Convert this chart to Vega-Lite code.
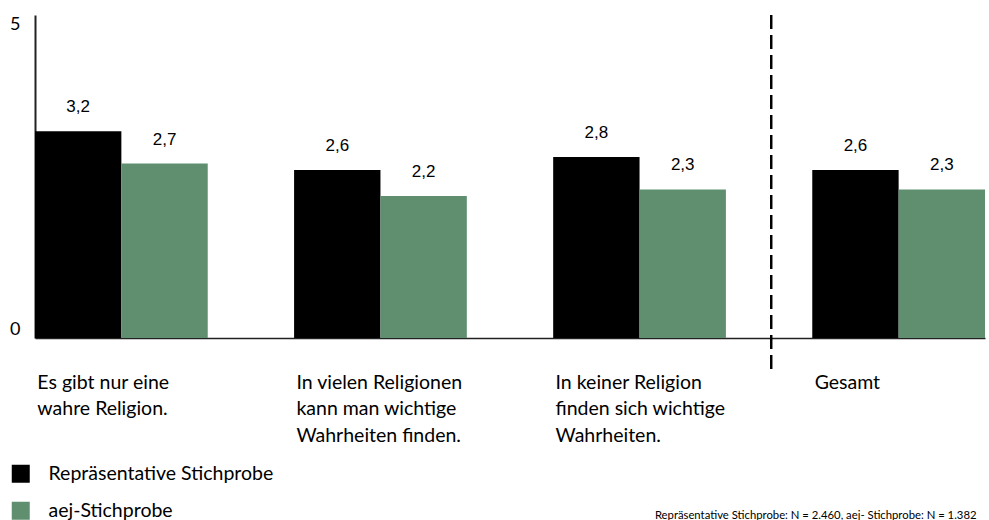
{
  "$schema": "https://vega.github.io/schema/vega-lite/v6.json",
  "width": 950,
  "height": 323,
  "autosize": {"type": "none"},
  "padding": {"left": 35, "top": 15, "right": 4, "bottom": 182},
  "background": "white",
  "config": {
    "view": {"stroke": null},
    "font": "Lato",
    "locale": {"number": {"decimal": ",", "thousands": ".", "grouping": [3], "currency": ["", " €"]}}
  },
  "data": {
    "values": [
      {"frage": "Es gibt nur eine wahre Religion.", "gruppe": "Repräsentative Stichprobe", "wert": 3.2},
      {"frage": "Es gibt nur eine wahre Religion.", "gruppe": "aej-Stichprobe", "wert": 2.7},
      {"frage": "In vielen Religionen kann man wichtige Wahrheiten finden.", "gruppe": "Repräsentative Stichprobe", "wert": 2.6},
      {"frage": "In vielen Religionen kann man wichtige Wahrheiten finden.", "gruppe": "aej-Stichprobe", "wert": 2.2},
      {"frage": "In keiner Religion finden sich wichtige Wahrheiten.", "gruppe": "Repräsentative Stichprobe", "wert": 2.8},
      {"frage": "In keiner Religion finden sich wichtige Wahrheiten.", "gruppe": "aej-Stichprobe", "wert": 2.3},
      {"frage": "Gesamt", "gruppe": "Repräsentative Stichprobe", "wert": 2.6},
      {"frage": "Gesamt", "gruppe": "aej-Stichprobe", "wert": 2.3}
    ]
  },
  "layer": [
    {
      "mark": {"type": "bar"},
      "encoding": {
        "x": {
          "field": "frage", "type": "nominal", "sort": null,
          "scale": {"paddingInner": 0.3333, "paddingOuter": 0},
          "axis": {
            "title": "Repräsentative Stichprobe: N = 2.460, aej- Stichprobe: N = 1.382",
            "titleFont": "Lato", "titleFontSize": 11.3, "titleFontWeight": "normal", "titleColor": "#000",
            "titleAnchor": "end", "titleAlign": "right", "titleBaseline": "alphabetic",
            "titleX": 941, "titleY": 180,
            "labelAlign": "left", "labelBaseline": "top", "labelAngle": 0,
            "labelOffset": -84,
            "labelFont": "Lato", "labelFontSize": 19.5, "labelColor": "#000",
            "labelPadding": 35, "labelLineHeight": 26.5, "labelLimit": 0,
            "ticks": false, "grid": false,
            "domainColor": "#222", "domainWidth": 1.5,
            "labelExpr": "datum.value == 'Es gibt nur eine wahre Religion.' ? ['Es gibt nur eine', 'wahre Religion.'] : datum.value == 'In vielen Religionen kann man wichtige Wahrheiten finden.' ? ['In vielen Religionen', 'kann man wichtige', 'Wahrheiten finden.'] : datum.value == 'In keiner Religion finden sich wichtige Wahrheiten.' ? ['In keiner Religion', 'finden sich wichtige', 'Wahrheiten.'] : datum.value"
          }
        },
        "xOffset": {"field": "gruppe", "type": "nominal", "sort": ["Repräsentative Stichprobe", "aej-Stichprobe"], "scale": {"paddingInner": 0, "paddingOuter": 0}},
        "y": {
          "field": "wert", "type": "quantitative",
          "scale": {"domain": [0, 5], "nice": false, "zero": true},
          "axis": {
            "title": null, "values": [0, 5], "format": "d", "ticks": false, "grid": false,
            "labelFlush": true, "labelFont": "Lato", "labelFontSize": 18, "labelColor": "#000",
            "labelPadding": 15, "domainColor": "#222", "domainWidth": 2
          }
        },
        "color": {
          "field": "gruppe", "type": "nominal", "sort": ["Repräsentative Stichprobe", "aej-Stichprobe"],
          "scale": {"range": ["#000000", "#5f8f6f"]},
          "legend": {
            "title": null, "orient": "none", "legendX": -24, "legendY": 449,
            "symbolType": "square", "symbolSize": 324, "symbolStrokeWidth": 0, "symbolOpacity": 1,
            "labelFont": "Lato", "labelFontSize": 19.5, "labelColor": "#000", "labelOffset": 18,
            "labelLimit": 0,
            "rowPadding": 16, "padding": 0, "direction": "vertical"
          }
        }
      }
    },
    {
      "mark": {"type": "text", "baseline": "alphabetic", "dy": -19, "font": "Liberation Sans", "fontSize": 17, "color": "#000"},
      "encoding": {
        "x": {"field": "frage", "type": "nominal", "sort": null},
        "xOffset": {"field": "gruppe", "type": "nominal", "sort": ["Repräsentative Stichprobe", "aej-Stichprobe"]},
        "y": {"field": "wert", "type": "quantitative"},
        "text": {"field": "wert", "type": "quantitative", "format": ".1f"}
      }
    },
    {
      "mark": {"type": "rule", "color": "#000", "strokeWidth": 1.5, "strokeDash": [14, 6]},
      "encoding": {
        "x": {"datum": "Gesamt", "type": "nominal", "bandPosition": -0.237},
        "y": {"datum": 5, "type": "quantitative"},
        "y2": {"datum": -0.573}
      }
    }
  ]
}
